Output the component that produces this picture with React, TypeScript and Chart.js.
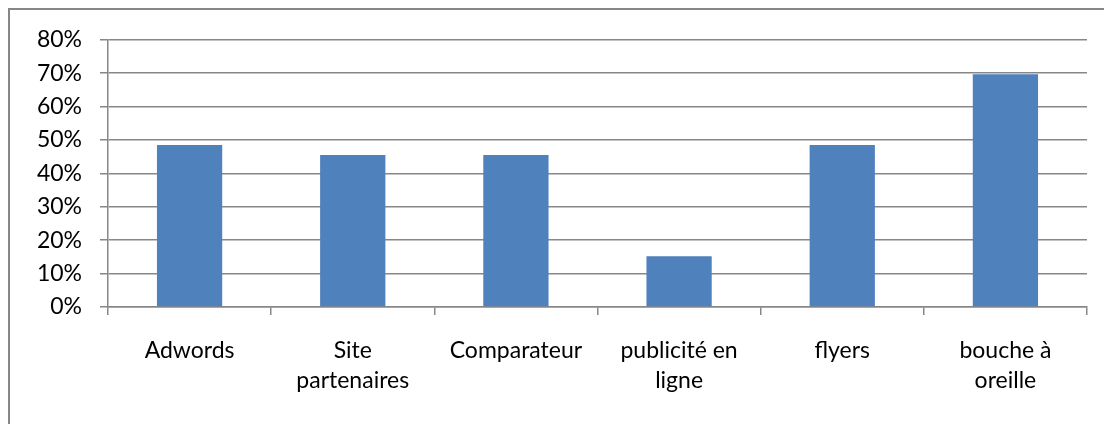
import React, { useEffect, useRef } from "react";
import { Chart, registerables } from "chart.js";

Chart.register(...registerables);

const categories: (string | string[])[] = [
  "Adwords",
  ["Site", "partenaires"],
  "Comparateur",
  ["publicité en", "ligne"],
  "flyers",
  ["bouche à", "oreille"],
];
const values: number[] = [48.5, 45.5, 45.5, 15.2, 48.5, 69.7];
const yMax = 80;
const yStep = 10;

const GRID = "#878787";

const borderPlugin = {
  id: "outerBorder",
  beforeDraw(chart: any) {
    const { ctx, width, height } = chart;
    ctx.save();
    ctx.strokeStyle = GRID;
    ctx.lineWidth = 2;
    ctx.strokeRect(1, 1, width + 20, height + 20);
    ctx.restore();
  },
};

export default function App() {
  const ref = useRef<HTMLCanvasElement | null>(null);
  useEffect(() => {
    if (!ref.current) return;
    const chart = new Chart(ref.current, {
      type: "bar",
      data: {
        labels: categories,
        datasets: [
          {
            data: values,
            backgroundColor: "#4F81BD",
            borderWidth: 0,
            barPercentage: 0.4,
            categoryPercentage: 1,
          },
        ],
      },
      options: {
        animation: false,
        responsive: false,
        maintainAspectRatio: false,
        layout: { padding: { top: 30, right: 17, left: 0, bottom: 0 } },
        plugins: {
          legend: { display: false },
          tooltip: { enabled: false },
          title: { display: false },
        },
        scales: {
          x: {
            offset: true,
            grid: {
              offset: true,
              drawOnChartArea: false,
              drawTicks: true,
              tickLength: 8,
              color: GRID,
              lineWidth: 1.5,
            },
            border: { display: true, color: GRID, width: 1.5 },
            ticks: {
              color: "#000",
              font: { family: "Lato", size: 23, lineHeight: 1.3 },
              padding: 21,
              maxRotation: 0,
              autoSkip: false,
            },
            afterFit(scale: any) {
              scale.height = 117;
            },
          },
          y: {
            min: 0,
            max: yMax,
            grid: {
              drawTicks: true,
              tickLength: 8,
              color: GRID,
              lineWidth: 1.5,
            },
            border: { display: true, color: GRID, width: 1.5 },
            ticks: {
              stepSize: yStep,
              color: "#000",
              font: { family: "Lato", size: 23 },
              padding: 18,
              callback: (v: any) => `${v}%`,
            },
            afterFit(scale: any) {
              scale.width = 100;
            },
          },
        },
      },
      plugins: [borderPlugin],
    });
    return () => chart.destroy();
  }, []);
  return (
    <div style={{ position: "fixed", left: 8, top: 8, width: 1096, height: 416 }}>
      <canvas ref={ref} width={1096} height={416} style={{ display: "block" }} />
    </div>
  );
}
